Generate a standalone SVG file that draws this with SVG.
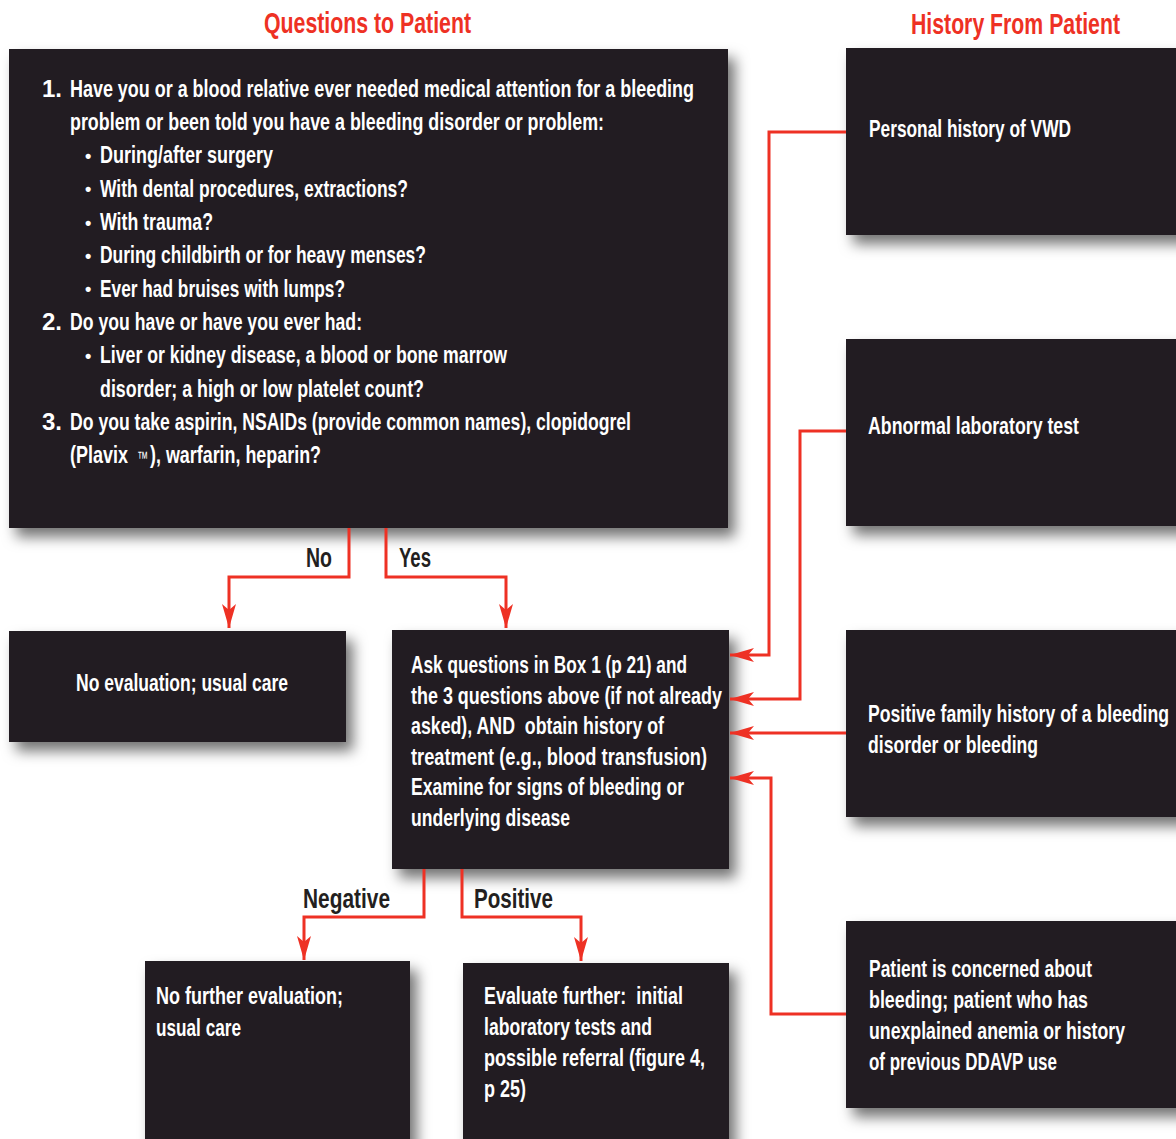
<svg xmlns="http://www.w3.org/2000/svg" width="1176" height="1139" viewBox="0 0 1176 1139">
<style>
.box{fill:#231f20;filter:url(#sh)}
.t{fill:#ffffff;font-family:"Liberation Sans Narrow","Liberation Sans",Arial,sans-serif;font-size:24px;font-weight:bold}
.hd{fill:#ee3124;font-family:"Liberation Sans Narrow","Liberation Sans",Arial,sans-serif;font-size:30px;font-weight:bold}
.lb{fill:#231f20;font-family:"Liberation Sans Narrow","Liberation Sans",Arial,sans-serif;font-size:28px;font-weight:bold}
.bu{fill:#ffffff;font-family:"Liberation Sans",Arial,sans-serif;font-size:18px;font-weight:bold}
.tm{fill:#ffffff;font-family:"Liberation Sans",Arial,sans-serif;font-size:18px;font-weight:normal}
.ln{fill:none;stroke:#ee3124;stroke-width:3;marker-end:url(#ah)}
</style>
<defs>
<filter id="sh" x="-20%" y="-20%" width="150%" height="150%">
<feDropShadow dx="7" dy="9" stdDeviation="7" flood-color="#000" flood-opacity="0.55"/>
</filter>
<marker id="ah" markerUnits="userSpaceOnUse" viewBox="0 0 24 14" refX="24" refY="7" markerWidth="24" markerHeight="14" orient="auto">
<path d="M0,0 L24,7 L0,14 L6,7 Z" fill="#ee3124"/>
</marker>
</defs>
<rect width="1176" height="1139" fill="#ffffff"/>

<text class="hd" x="264" y="33" textLength="207" lengthAdjust="spacingAndGlyphs">Questions to Patient</text>
<text class="hd" x="911" y="34" textLength="209" lengthAdjust="spacingAndGlyphs">History From Patient</text>

<g id="questions">
<rect class="box" x="9" y="49" width="719" height="479"/>
<text class="t" x="42" y="96.5">1.</text>
<text class="t" x="70" y="96.5" textLength="624" lengthAdjust="spacingAndGlyphs">Have you or a blood relative ever needed medical attention for a bleeding</text>
<text class="t" x="70" y="130" textLength="534" lengthAdjust="spacingAndGlyphs">problem or been told you have a bleeding disorder or problem:</text>
<text class="bu" x="85" y="162">•</text>
<text class="t" x="100" y="163" textLength="173" lengthAdjust="spacingAndGlyphs">During/after surgery</text>
<text class="bu" x="85" y="195">•</text>
<text class="t" x="100" y="196.5" textLength="308" lengthAdjust="spacingAndGlyphs">With dental procedures, extractions?</text>
<text class="bu" x="85" y="229">•</text>
<text class="t" x="100" y="230" textLength="113" lengthAdjust="spacingAndGlyphs">With trauma?</text>
<text class="bu" x="85" y="262">•</text>
<text class="t" x="100" y="263" textLength="326" lengthAdjust="spacingAndGlyphs">During childbirth or for heavy menses?</text>
<text class="bu" x="85" y="295">•</text>
<text class="t" x="100" y="296.5" textLength="245" lengthAdjust="spacingAndGlyphs">Ever had bruises with lumps?</text>
<text class="t" x="42" y="330">2.</text>
<text class="t" x="70" y="330" textLength="292" lengthAdjust="spacingAndGlyphs">Do you have or have you ever had:</text>
<text class="bu" x="85" y="362">•</text>
<text class="t" x="100" y="363" textLength="407" lengthAdjust="spacingAndGlyphs">Liver or kidney disease, a blood or bone marrow</text>
<text class="t" x="100" y="396.5" textLength="324" lengthAdjust="spacingAndGlyphs">disorder; a high or low platelet count?</text>
<text class="t" x="42" y="430">3.</text>
<text class="t" x="70" y="430" textLength="561" lengthAdjust="spacingAndGlyphs">Do you take aspirin, NSAIDs (provide common names), clopidogrel</text>
<text class="t" x="70" y="463" textLength="58" lengthAdjust="spacingAndGlyphs">(Plavix</text>
<text class="tm" x="137" y="464" textLength="11" lengthAdjust="spacingAndGlyphs">™</text>
<text class="t" x="150" y="463" textLength="171" lengthAdjust="spacingAndGlyphs">), warfarin, heparin?</text>
</g>

<g id="no-eval">
<rect class="box" x="9" y="631" width="337" height="111"/>
<text class="t" x="76" y="691" textLength="212" lengthAdjust="spacingAndGlyphs">No evaluation; usual care</text>
</g>

<g id="ask">
<rect class="box" x="392" y="630" width="337" height="239"/>
<text class="t" x="411" y="673" textLength="276" lengthAdjust="spacingAndGlyphs">Ask questions in Box 1 (p 21) and</text>
<text class="t" x="411" y="703.5" textLength="311" lengthAdjust="spacingAndGlyphs">the 3 questions above (if not already</text>
<text class="t" x="411" y="734" textLength="253" lengthAdjust="spacingAndGlyphs">asked), AND&#160; obtain history of</text>
<text class="t" x="411" y="764.5" textLength="296" lengthAdjust="spacingAndGlyphs">treatment (e.g., blood transfusion)</text>
<text class="t" x="411" y="795" textLength="273" lengthAdjust="spacingAndGlyphs">Examine for signs of bleeding or</text>
<text class="t" x="411" y="825.5" textLength="159" lengthAdjust="spacingAndGlyphs">underlying disease</text>
</g>

<g id="no-further">
<rect class="box" x="145" y="961" width="265" height="190"/>
<text class="t" x="156" y="1004" textLength="187" lengthAdjust="spacingAndGlyphs">No further evaluation;</text>
<text class="t" x="156" y="1035.5" textLength="85" lengthAdjust="spacingAndGlyphs">usual care</text>
</g>

<g id="evaluate">
<rect class="box" x="463" y="963" width="266" height="190"/>
<text class="t" x="484" y="1004" textLength="199" lengthAdjust="spacingAndGlyphs">Evaluate further:&#160; initial</text>
<text class="t" x="484" y="1035" textLength="168" lengthAdjust="spacingAndGlyphs">laboratory tests and</text>
<text class="t" x="484" y="1066" textLength="221" lengthAdjust="spacingAndGlyphs">possible referral (figure 4,</text>
<text class="t" x="484" y="1097" textLength="42" lengthAdjust="spacingAndGlyphs">p 25)</text>
</g>

<g id="personal">
<rect class="box" x="846" y="48" width="345" height="187"/>
<text class="t" x="869" y="137" textLength="202" lengthAdjust="spacingAndGlyphs">Personal history of VWD</text>
</g>

<g id="abnormal">
<rect class="box" x="846" y="339" width="345" height="187"/>
<text class="t" x="868" y="434" textLength="211" lengthAdjust="spacingAndGlyphs">Abnormal laboratory test</text>
</g>

<g id="family">
<rect class="box" x="846" y="630" width="345" height="187"/>
<text class="t" x="868" y="722" textLength="301" lengthAdjust="spacingAndGlyphs">Positive family history of a bleeding</text>
<text class="t" x="868" y="753" textLength="170" lengthAdjust="spacingAndGlyphs">disorder or bleeding</text>
</g>

<g id="concerned">
<rect class="box" x="846" y="921" width="345" height="187"/>
<text class="t" x="869" y="977" textLength="223" lengthAdjust="spacingAndGlyphs">Patient is concerned about</text>
<text class="t" x="869" y="1008" textLength="219" lengthAdjust="spacingAndGlyphs">bleeding; patient who has</text>
<text class="t" x="869" y="1039" textLength="256" lengthAdjust="spacingAndGlyphs">unexplained anemia or history</text>
<text class="t" x="869" y="1069.5" textLength="188" lengthAdjust="spacingAndGlyphs">of previous DDAVP use</text>
</g>

<g id="connectors">
<path class="ln" d="M349,528 V577 H229 V628"/>
<path class="ln" d="M386,528 V577 H506 V628"/>
<path class="ln" d="M846,132 H769 V655 H730"/>
<path class="ln" d="M846,431 H800 V699 H730"/>
<path class="ln" d="M846,733 H730"/>
<path class="ln" d="M846,1014 H771 V778 H730"/>
<path class="ln" d="M424,869 V917 H304 V960"/>
<path class="ln" d="M462,869 V917 H581 V961"/>
<text class="lb" x="306" y="567" textLength="26" lengthAdjust="spacingAndGlyphs">No</text>
<text class="lb" x="399" y="567" textLength="32" lengthAdjust="spacingAndGlyphs">Yes</text>
<text class="lb" x="303" y="908" textLength="87" lengthAdjust="spacingAndGlyphs">Negative</text>
<text class="lb" x="474" y="908" textLength="79" lengthAdjust="spacingAndGlyphs">Positive</text>
</g>
</svg>
